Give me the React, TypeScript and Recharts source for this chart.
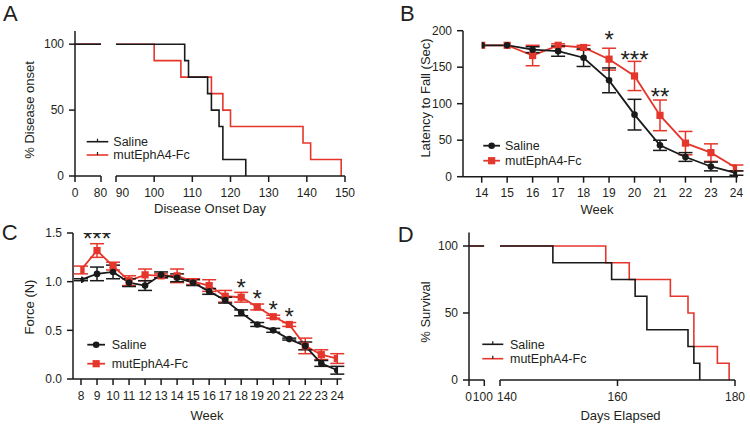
import React from 'react';
import { ComposedChart, LineChart, Line, XAxis, YAxis, ErrorBar, Scatter, Customized } from 'recharts';

const FONT = '"Liberation Sans", Arial, Helvetica, sans-serif';
const INK = '#1a1a1a';
const RED = '#e5362c';
const TXT = '#231f20';

// ---- Panel A: disease onset (Kaplan-Meier) ----
const onsetTicksLow = [0, 80];
const onsetTicksHigh = [90, 100, 110, 120, 130, 140, 150];
const onsetLowDays = [0, 80];
const onsetLowPct = [100, 100];
const onsetSalineDays = [90, 108, 109, 114, 115, 117, 118, 124];
const onsetSalinePct = [100, 87.5, 75, 62.5, 50, 37.5, 12.5, 0];
const onsetMutDays = [90, 100, 107, 115, 118, 120, 139, 141, 149];
const onsetMutPct = [100, 87.5, 75, 62.5, 50, 37.5, 25, 12.5, 0];
const pctTicks = [0, 50, 100];

// ---- Panel B: latency to fall ----
const weeksB = [14, 15, 16, 17, 18, 19, 20, 21, 22, 23, 24];
const latencySaline = [180, 180, 174, 172, 163, 132, 85, 43, 27, 14, 5];
const latencySalineSem = [0, 0, 4, 7, 12, 17, 21, 7, 6, 6, 3];
const latencyMut = [180, 180, 166, 180, 177, 161, 138, 84, 46, 33, 12];
const latencyMutSem = [0, 0, 14, 2, 3, 15, 20, 21, 16, 12, 4];
const latencyTicks = [0, 50, 100, 150, 200];
const starsBWeeks = [19, 20, 21];
const starsBY = [196, 168, 117];
const starsBText = ['*', '***', '**'];

// ---- Panel C: force ----
const weeksC = [8, 9, 10, 11, 12, 13, 14, 15, 16, 17, 18, 19, 20, 21, 22, 23, 24];
const forceSaline = [1.02, 1.08, 1.1, 0.99, 0.96, 1.07, 1.04, 0.99, 0.9, 0.81, 0.68, 0.56, 0.5, 0.41, 0.34, 0.16, 0.09];
const forceSalineSem = [0.01, 0.07, 0.07, 0.04, 0.05, 0.03, 0.04, 0.03, 0.03, 0.03, 0.03, 0.02, 0.02, 0.01, 0.04, 0.03, 0.04];
const forceMut = [1.12, 1.32, 1.16, 1.01, 1.07, 1.06, 1.06, 1.0, 0.96, 0.85, 0.84, 0.74, 0.64, 0.56, 0.34, 0.25, 0.21];
const forceMutSem = [0.04, 0.07, 0.04, 0.05, 0.06, 0.02, 0.07, 0.03, 0.06, 0.06, 0.05, 0.03, 0.015, 0.02, 0.08, 0.05, 0.05];
const forceTicks = [0, 0.5, 1.0, 1.5];
const starsCWeeks = [9, 18, 19, 20, 21];
const starsCY = [1.5, 1.0, 0.885, 0.775, 0.7];
const starsCText = ['***', '*', '*', '*', '*'];

// ---- Panel D: survival (Kaplan-Meier) ----
const survTicksLow = [0, 100];
const survTicksHigh = [140, 160, 180];
const survLowDays = [0, 100];
const survLowPct = [100, 100];
const survSalineDays = [140, 149, 159, 163, 165, 172, 173, 174];
const survSalinePct = [100, 87.5, 75, 62.5, 37.5, 25, 12.5, 0];
const survMutDays = [140, 158, 162, 169, 172, 173, 177, 179];
const survMutPct = [100, 87.5, 75, 62.5, 50, 25, 12.5, 0];

const legendNames = ['Saline', 'mutEphA4-Fc'];

// ---- helpers ----
const km = (xs: number[], ys: number[]) => xs.map((d, i) => ({ d, v: ys[i] }));
const series = (xs: number[], ys: number[], es: number[]) => xs.map((week, i) => ({ week, v: ys[i], e: es[i] }));
const stars = (xs: number[], ys: number[], ls: string[]) => xs.map((week, i) => ({ week, v: ys[i], label: ls[i] }));

const lineStyle = { stroke: INK, strokeWidth: 1.5 };
const tickStyle = { fontSize: 12, fill: TXT, fontFamily: FONT };
const xCommon: any = { axisLine: lineStyle, tickLine: lineStyle, tick: tickStyle, tickSize: 6, tickMargin: 6, height: 30, type: 'number', allowDataOverflow: true, interval: 0 };
const yCommon: any = { axisLine: lineStyle, tickLine: lineStyle, tick: tickStyle, tickSize: 6, tickMargin: 5, type: 'number', allowDataOverflow: true, interval: 0 };

// tick label renderer that nudges labels at the axis breaks (as GraphPad does)
const shiftedTick = (shift: Record<number, number>) => (p: any) => (
  <text x={p.x + (shift[p.payload.value] ?? 0)} y={p.y} dy={8.5} textAnchor="middle" fontSize={12} fontFamily={FONT} fill={TXT}>
    {p.payload.value}
  </text>
);

const SquareDot = (p: any) => {
  if (p.cx == null || p.cy == null) return <g key={`s${p.index}`} />;
  return <rect key={`s${p.index}`} x={p.cx - 3.6} y={p.cy - 3.6} width={7.2} height={7.2} fill={RED} />;
};
const StarShape = (p: any) => (
  <text x={p.cx} y={p.cy + 14} textAnchor="middle" fontSize={24} fontFamily={FONT} fill={TXT}>
    {p.payload.label}
  </text>
);

const T = ({ x, y, s = 13, rot = false, anchor = 'middle', children }: any) => (
  <text x={x} y={y} fontSize={s} fontFamily={FONT} fill={TXT} textAnchor={anchor} transform={rot ? `rotate(-90 ${x} ${y})` : undefined}>
    {children}
  </text>
);

const KMLegend = ({ x0, x1, tx, y0, gap }: any) => (
  <g>
    {[INK, RED].map((c, i) => {
      const y = y0 + i * gap;
      const m = (x0 + x1) / 2;
      return (
        <g key={i}>
          <line x1={x0} x2={x1} y1={y} y2={y} stroke={c} strokeWidth={1.6} />
          <line x1={m} x2={m} y1={y - 3} y2={y} stroke={INK} strokeWidth={1.2} />
          <T x={tx} y={y + 4.4} s={12.5} anchor="start">{legendNames[i]}</T>
        </g>
      );
    })}
  </g>
);

const MarkLegend = ({ x0, x1, tx, y0, gap }: any) => (
  <g>
    {[INK, RED].map((c, i) => {
      const y = y0 + i * gap;
      const m = (x0 + x1) / 2;
      return (
        <g key={i}>
          <line x1={x0} x2={x1} y1={y} y2={y} stroke={c} strokeWidth={1.8} />
          {i === 0 ? <circle cx={m} cy={y} r={3.3} fill={INK} /> : <rect x={m - 3.6} y={y - 3.6} width={7.2} height={7.2} fill={RED} />}
          <T x={tx} y={y + 4.4} s={12.5} anchor="start">{legendNames[i]}</T>
        </g>
      );
    })}
  </g>
);

const abs = (left: number, top: number): React.CSSProperties => ({ position: 'absolute', left, top });

export default function App() {
  return (
    <div style={{ position: 'absolute', left: 0, top: 0, width: 750, height: 425, background: '#fff', overflow: 'hidden' }}>
      {/* Panel A, left segment */}
      <div style={abs(0, 0)}>
        <LineChart width={375} height={220} margin={{ top: 31, right: 274, left: 0, bottom: 14 }}>
          <XAxis {...xCommon} dataKey="d" domain={[0, 80]} ticks={onsetTicksLow} tick={shiftedTick({ 80: -0.5 })} />
          <YAxis {...yCommon} domain={[0, 110]} ticks={pctTicks} width={75} />
          <Line data={km(onsetLowDays, onsetLowPct)} dataKey="v" type="stepAfter" stroke={RED} strokeWidth={1.6} dot={false} isAnimationActive={false} />
          <Line data={km(onsetLowDays, onsetLowPct)} dataKey="v" type="stepAfter" stroke={INK} strokeWidth={1.6} dot={false} isAnimationActive={false} />
          <Customized component={() => (
            <g>
              <T x={3} y={20.5} s={22} anchor="start">A</T>
              <T x={33.5} y={110} rot>% Disease onset</T>
              <T x={210} y={213}>Disease Onset Day</T>
            </g>
          )} />
        </LineChart>
      </div>
      {/* Panel A, right segment */}
      <div style={abs(0, 0)}>
        <LineChart width={375} height={220} margin={{ top: 31, right: 30, left: 116, bottom: 14 }}>
          <XAxis {...xCommon} dataKey="d" domain={[90, 150]} ticks={onsetTicksHigh} tick={shiftedTick({ 90: 6.5 })} />
          <YAxis hide type="number" domain={[0, 110]} allowDataOverflow />
          <Line data={km(onsetMutDays, onsetMutPct)} dataKey="v" type="stepAfter" stroke={RED} strokeWidth={1.6} dot={false} isAnimationActive={false} />
          <Line data={km(onsetSalineDays, onsetSalinePct)} dataKey="v" type="stepAfter" stroke={INK} strokeWidth={1.6} dot={false} isAnimationActive={false} />
          <Customized component={() => <KMLegend x0={86.7} x1={108.3} tx={113.3} y0={141.7} gap={13.3} />} />
        </LineChart>
      </div>

      {/* Panel B */}
      <div style={abs(375, 0)}>
        <ComposedChart width={375} height={220} margin={{ top: 30.7, right: 12, left: 0, bottom: 13.3 }}>
          <XAxis {...xCommon} dataKey="week" domain={[14, 24]} ticks={weeksB} padding={{ left: 18.7, right: 1.6 }} />
          <YAxis {...yCommon} domain={[0, 200]} ticks={latencyTicks} width={88} />
          <Line data={series(weeksB, latencyMut, latencyMutSem)} dataKey="v" stroke={RED} strokeWidth={1.8} dot={SquareDot} isAnimationActive={false}>
            <ErrorBar dataKey="e" direction="y" width={7} stroke={RED} strokeWidth={1.5} />
          </Line>
          <Line data={series(weeksB, latencySaline, latencySalineSem)} dataKey="v" stroke={INK} strokeWidth={1.8} dot={{ r: 3.3, fill: INK, stroke: INK, strokeWidth: 0 }} isAnimationActive={false}>
            <ErrorBar dataKey="e" direction="y" width={7} stroke={INK} strokeWidth={1.5} />
          </Line>
          <Scatter data={stars(starsBWeeks, starsBY, starsBText)} dataKey="v" shape={StarShape} isAnimationActive={false} />
          <Customized component={() => (
            <g>
              <T x={25} y={20.5} s={22} anchor="start">B</T>
              <T x={55} y={98} rot>Latency to Fall (Sec)</T>
              <T x={222} y={214}>Week</T>
              <MarkLegend x0={108.3} x1={125} tx={130} y0={145.7} gap={15} />
            </g>
          )} />
        </ComposedChart>
      </div>

      {/* Panel C */}
      <div style={abs(0, 212)}>
        <ComposedChart width={375} height={213} margin={{ top: 21, right: 33.3, left: 0, bottom: 16 }}>
          <XAxis {...xCommon} dataKey="week" domain={[8, 24]} ticks={weeksC} padding={{ left: 8, right: 4.4 }} />
          <YAxis {...yCommon} domain={[0, 1.5]} ticks={forceTicks} width={73} tickFormatter={(v: number) => v.toFixed(1)} />
          <Line data={series(weeksC, forceMut, forceMutSem)} dataKey="v" stroke={RED} strokeWidth={1.8} dot={SquareDot} isAnimationActive={false}>
            <ErrorBar dataKey="e" direction="y" width={7} stroke={RED} strokeWidth={1.5} />
          </Line>
          <Line data={series(weeksC, forceSaline, forceSalineSem)} dataKey="v" stroke={INK} strokeWidth={1.8} dot={{ r: 3.3, fill: INK, stroke: INK, strokeWidth: 0 }} isAnimationActive={false}>
            <ErrorBar dataKey="e" direction="y" width={7} stroke={INK} strokeWidth={1.5} />
          </Line>
          <Scatter data={stars(starsCWeeks, starsCY, starsCText)} dataKey="v" shape={StarShape} isAnimationActive={false} />
          <Customized component={() => (
            <g>
              <T x={1.7} y={28} s={22} anchor="start">C</T>
              <T x={33.5} y={95} rot>Force (N)</T>
              <T x={207} y={207.6}>Week</T>
              <MarkLegend x0={87.3} x1={105} tx={111.7} y0={132.7} gap={19} />
            </g>
          )} />
        </ComposedChart>
      </div>

      {/* Panel D, left segment */}
      <div style={abs(375, 212)}>
        <LineChart width={375} height={213} margin={{ top: 20.6, right: 265.7, left: 0, bottom: 15 }}>
          <XAxis {...xCommon} dataKey="d" domain={[0, 100]} ticks={survTicksLow} tick={shiftedTick({ 0: -0.5, 100: -1.5 })} />
          <YAxis {...yCommon} domain={[0, 110]} ticks={pctTicks} width={94} />
          <Line data={km(survLowDays, survLowPct)} dataKey="v" type="stepAfter" stroke={RED} strokeWidth={1.6} dot={false} isAnimationActive={false} />
          <Line data={km(survLowDays, survLowPct)} dataKey="v" type="stepAfter" stroke={INK} strokeWidth={1.6} dot={false} isAnimationActive={false} />
          <Customized component={() => (
            <g>
              <T x={22.7} y={30} s={22} anchor="start">D</T>
              <T x={54.5} y={100} rot>% Survival</T>
              <T x={245.5} y={208.3}>Days Elapsed</T>
            </g>
          )} />
        </LineChart>
      </div>
      {/* Panel D, right segment */}
      <div style={abs(375, 212)}>
        <LineChart width={375} height={213} margin={{ top: 20.6, right: 15, left: 125, bottom: 15 }}>
          <XAxis {...xCommon} dataKey="d" domain={[140, 180]} ticks={survTicksHigh} tick={shiftedTick({ 140: 7 })} />
          <YAxis hide type="number" domain={[0, 110]} allowDataOverflow />
          <Line data={km(survMutDays, survMutPct)} dataKey="v" type="stepAfter" stroke={RED} strokeWidth={1.6} dot={false} isAnimationActive={false} />
          <Line data={km(survSalineDays, survSalinePct)} dataKey="v" type="stepAfter" stroke={INK} strokeWidth={1.6} dot={false} isAnimationActive={false} />
          <Customized component={() => <KMLegend x0={107.3} x1={128.3} tx={135} y0={132.3} gap={14.4} />} />
        </LineChart>
      </div>
    </div>
  );
}
